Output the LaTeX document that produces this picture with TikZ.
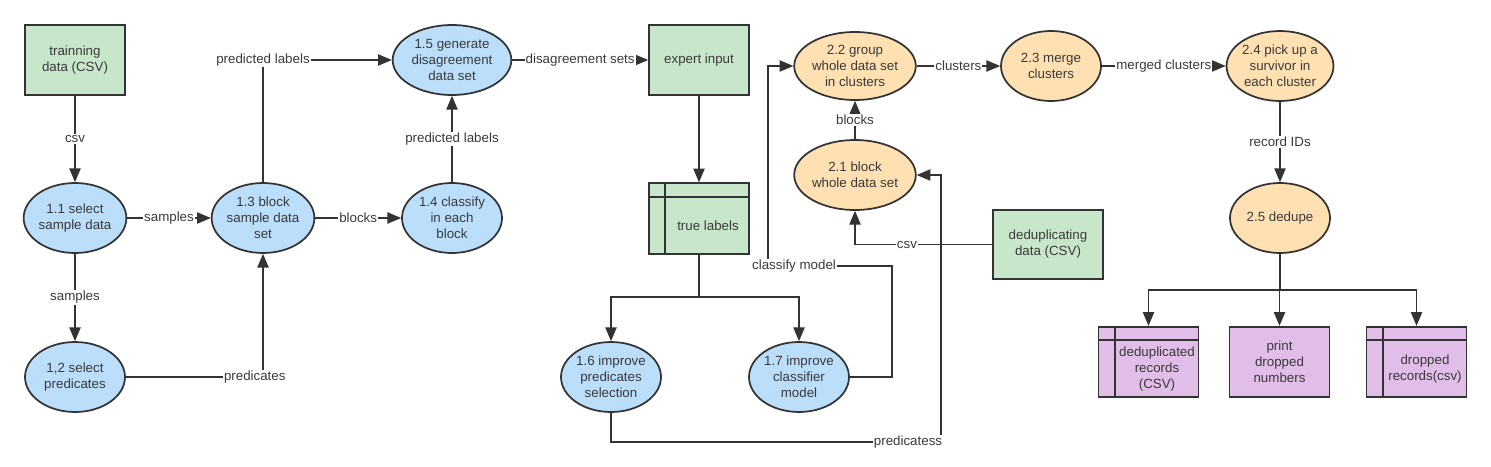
\documentclass[tikz,border=0pt]{standalone}
\usepackage{fontspec}
\setmainfont{Liberation Sans}
\usepackage[usenames]{xcolor}
\usepackage{tikz}
\usetikzlibrary{arrows,shapes.geometric}

\definecolor{boxgreen}{HTML}{C8E6C9}
\definecolor{procblue}{HTML}{BBDEFB}
\definecolor{procorange}{HTML}{FFE0B2}
\definecolor{outpurple}{HTML}{E1BEE7}
\definecolor{linegray}{HTML}{333333}
\definecolor{textgray}{HTML}{3A3A3A}

\begin{document}
\begin{tikzpicture}[x=0.75pt,y=-0.75pt,font=\fontsize{10}{12}\selectfont,
    proc/.style={ellipse,draw=linegray,line width=1.3pt,fill=procblue,
        minimum width=75pt,minimum height=52.5pt,inner sep=0pt,align=center,text=textgray},
    dproc/.style={proc,fill=procorange},
    ext/.style={rectangle,draw=linegray,line width=1.3pt,fill=boxgreen,
        minimum width=75pt,minimum height=53pt,inner sep=0pt,align=center,text=textgray},
    store/.style={ext,fill=outpurple},
    lbl/.style={fill=white,inner sep=0.8pt,text=textgray}]
\useasboundingbox (0,0) rectangle (1491,467);
\begin{scope}[>=triangle 45,line width=1.4pt,draw=linegray]

    % first stage
    \node[ext] (train) at (75,60) {trainning\\data (CSV)};
    \node[proc] (p11) at (75,218) {1.1 select\\sample data};
    \node[proc] (p12) at (75,377) {1,2 select\\predicates};
    \node[proc] (p13) at (263,218) {1.3 block\\sample data\\set};
    \node[proc] (p14) at (452,218) {1.4 classify\\in each\\block};
    \node[proc,minimum width=89pt] (p15) at (452,60) {1.5 generate\\disagreement\\data set};
    \node[ext] (expert) at (699,60) {expert input};
    \node[ext] (tl) at (699,218.5) {};
    \node[text=textgray] (tltext) at (708,226) {true labels};
    \node[proc] (p16) at (611,377) {1.6 improve\\predicates\\selection};
    \node[proc] (p17) at (799,377) {1.7 improve\\classifier\\model};

    % second stage
    \node[dproc,minimum width=84pt,minimum height=51pt] (p22) at (855,66) {2.2 group\\whole data set\\in clusters};
    \node[dproc] (p23) at (1051,66) {2.3 merge\\clusters};
    \node[dproc] (p24) at (1280,66) {2.4 pick up a\\survivor in\\each cluster};
    \node[dproc,minimum width=85pt] (p21) at (855,175) {2.1 block\\whole data set};
    \node[dproc] (p25) at (1280,218) {2.5 dedupe};
    \node[ext,minimum width=83pt,minimum height=52pt] (dedup) at (1048,244.5) {deduplicating\\data (CSV)};
    \node[store] (out1) at (1148.5,362) {};
    \node[text=textgray,align=center] (out1text) at (1157,369) {deduplicated\\records\\(CSV)};
    \node[store] (out2) at (1279.5,362) {print\\dropped\\numbers};
    \node[store] (out3) at (1416.5,362) {};
    \node[text=textgray,align=center] (out3text) at (1425,369) {dropped\\records(csv)};

    % inner lines of the stores
    \foreach \s in {tl,out1,out3} {
        \draw[line width=1.3pt] ([shift={(17,0)}]\s.north west) -- ([shift={(17,0)}]\s.south west);
        \draw[line width=1.3pt] ([shift={(0,14.5)}]\s.north west) -- ([shift={(0,14.5)}]\s.north east);
    }

    \coordinate (split) at (699,297);
    \coordinate (cmturn) at (892,266);
    \coordinate (cmup) at (768,266);
    \coordinate (pturn) at (941,442);
    \coordinate (fork) at (1280,290);

    \draw[->] (train) -- node[lbl]{csv} (p11);
    \draw[->] (p11) -- node[lbl]{samples} (p13);
    \draw[->] (p13) -- node[lbl]{blocks} (p14);
    \draw[->] (p11) -- node[lbl]{samples} (p12);
    \draw[->] (p12.east) -| node[lbl,pos=0.47]{predicates} (p13.south);
    \draw[->] (p13.north) |- node[lbl]{predicted labels} (p15.west);
    \draw[->] (p14) -- node[lbl]{predicted labels} (p15);
    \draw[->] (p15) -- node[lbl]{disagreement sets} (expert);
    \draw[->] (expert) -- (tl);
    \draw (tl) -- (split);
    \draw[->] (split) -| (p16.north);
    \draw[->] (split) -| (p17.north);
    \draw[->] (p17.east) -| (cmturn) -- node[lbl,pos=0.79]{classify model} (cmup) |- (p22.west);
    \draw[->] (p16.south) |- node[lbl,pos=0.95]{predicatess} (pturn) |- (p21.east);
    \draw[->] (p21) -- node[lbl]{blocks} (p22);
    \draw[->] (dedup.west) -| node[lbl,pos=0.31]{csv} (p21.south);
    \draw[->] (p22) -- node[lbl]{clusters} (p23);
    \draw[->] (p23) -- node[lbl]{merged clusters} (p24);
    \draw[->] (p24) -- node[lbl]{record IDs} (p25);
    \draw (p25) -- (fork);
    \foreach \o in {out1,out2,out3}
        \draw[->] (fork) -| (\o.north);

\end{scope}
\end{tikzpicture}
\end{document}
